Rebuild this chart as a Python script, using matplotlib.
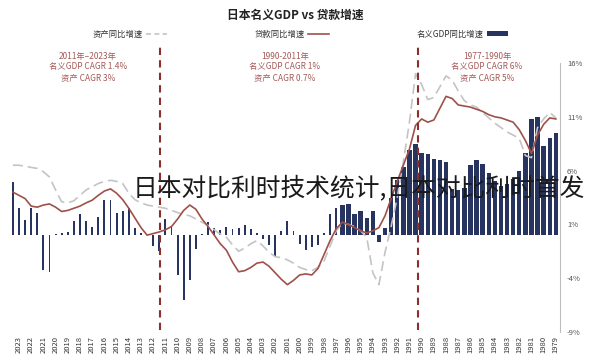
import numpy as np
import matplotlib
matplotlib.use('Agg')
import matplotlib.pyplot as plt
from matplotlib.patches import Patch
from matplotlib.lines import Line2D

plt.rcParams['font.family'] = ['Noto Sans CJK SC', 'DejaVu Sans']

# half-year periods, newest (left) to oldest (right)
periods = np.arange(2023.5, 1978.9, -0.5)

gdp_yoy = [4.9, 2.5, 1.4, 2.5, 2.1, -3.2, -3.4, 0.1, 0.2, 0.3,
           1.3, 2.0, 1.3, 0.8, 1.7, 3.3, 3.3, 2.1, 2.2, 2.5,
           0.7, 0.2, 0.05, -1.0, -1.5, 1.5, 0.8, -3.7, -6.0, -4.2,
           -1.3, 0.1, 1.2, 0.7, 0.5, 0.8, 0.6, 0.7, 0.9, 0.6,
           0.2, -0.4, -0.9, -2.0, 0.4, 1.3, 0.4, -0.8, -1.4, -1.1,
           -0.9, 0.2, 2.0, 2.5, 2.8, 2.9, 2.0, 2.2, 1.6, 2.2,
           -0.6, 0.7, 3.5, 5.1, 6.3, 7.9, 8.5, 7.6, 7.5, 7.1,
           7.0, 6.8, 4.3, 4.2, 4.4, 6.5, 7.0, 6.6, 5.8, 5.0,
           4.6, 4.8, 5.2, 6.0, 7.6, 10.8, 11.0, 8.3, 9.0, 9.5]

loan_yoy = [4.0, 3.7, 3.4, 2.7, 2.6, 2.8, 2.9, 2.6, 2.2, 2.3,
            2.5, 2.7, 3.0, 3.25, 3.7, 4.1, 4.3, 3.9, 3.3, 2.5,
            1.6, 0.7, 0.0, 0.15, 0.3, 0.5, 0.8, 1.5, 2.3, 2.8,
            2.4, 1.5, 0.8, 0.0, -0.8, -1.4, -2.5, -3.4, -3.3, -3.0,
            -2.6, -2.5, -2.9, -3.5, -4.1, -4.6, -4.2, -3.7, -3.6, -3.7,
            -3.1, -1.8, -0.5, 0.6, 1.2, 1.0, 0.7, 0.4, 0.2, 0.4,
            0.7, 1.8, 3.4, 5.0, 6.5, 8.0, 10.2, 10.8, 10.5, 10.7,
            11.8, 12.9, 12.7, 12.1, 12.0, 11.9, 11.7, 11.5, 11.2, 11.0,
            10.9, 10.7, 10.5, 9.8, 8.8, 7.6, 9.3, 10.3, 10.9, 10.8]

asset_yoy = [6.5, 6.5, 6.4, 6.3, 6.2, 5.9, 5.4, 4.2, 3.1, 3.0,
             3.2, 3.7, 4.2, 4.5, 4.8, 5.0, 5.1, 5.0, 4.8, 3.9,
             3.3, 3.0, 2.8, 2.7, 2.6, 2.5, 2.3, 2.1, 1.9, 1.8,
             1.5, 1.2, 0.9, 0.5, 0.1, -0.2, -0.9, -1.5, -1.2, -0.8,
             -0.5, -1.0, -1.6, -2.0, -2.1, -2.3, -2.6, -3.0, -3.2, -3.3,
             -3.0, -2.4, -1.0, 0.4, 1.1, 1.0, 0.8, 0.4, -0.2, -3.5,
             -4.6, -1.6, 0.8, 3.5, 6.8, 10.5, 15.0, 14.0, 12.6, 12.8,
             13.8, 14.8, 14.4, 13.4, 12.5, 12.1, 11.9, 11.4, 10.9, 10.4,
             10.0, 9.6, 9.3, 9.0, 7.4, 7.2, 10.0, 10.8, 11.4, 10.9]

years = np.arange(1979, 2024)
yticks = [-9, -4, 1, 6, 11, 16]
split_years = [2011.45, 1990.3]

notes = [
    (88, ['2011年–2023年', '名义GDP CAGR 1.4%', '资产 CAGR 3%']),
    (285, ['1990-2011年', '名义GDP CAGR 1%', '资产 CAGR 0.7%']),
    (487, ['1977-1990年', '名义GDP CAGR 6%', '资产 CAGR 5%']),
]

navy = '#27345f'
loan_c = '#a0504a'
asset_c = '#c4c4c4'
split_c = '#8c2f2c'
note_c = '#a45a58'

W, H = 600, 364
fig = plt.figure(figsize=(6, 3.64), dpi=100)
ax = fig.add_axes([8 / W, 1 - 332 / H, 552 / W, 269 / H])

widths = np.where(periods < 1996.8, 0.36, 0.16)
ax.bar(periods, gdp_yoy, width=widths, color=navy, linewidth=0, zorder=2)
ax.plot(periods, asset_yoy, color=asset_c, lw=1.2, ls=(0, (6, 3)), zorder=3)
ax.plot(periods, loan_yoy, color=loan_c, lw=1.2, zorder=4)

for xv in split_years:
    ax.axvline(xv, ymin=0.007, ymax=1.067, color=split_c, lw=1.5,
               ls=(0, (3.5, 2.5)), clip_on=False, zorder=5)

ax.set_xlim(2023.9, 1978.66)
ax.set_ylim(-9, 16)
ax.set_xticks(years)
ax.set_xticklabels([str(y) for y in years], rotation=90, fontsize=5.5,
                   color='#333333')
ax.tick_params(axis='x', length=0, pad=3)
ax.yaxis.tick_right()
ax.set_yticks(yticks)
ax.set_yticklabels([f'{v}%' for v in yticks], fontsize=5.5, color='#555555')
ax.tick_params(axis='y', length=0, pad=5)
for s in ['left', 'top', 'bottom']:
    ax.spines[s].set_visible(False)
ax.spines['right'].set_color('#bdbdbd')
ax.spines['right'].set_linewidth(0.8)

fig.text(295 / W, 1 - 15 / H, '日本名义GDP vs 贷款增速', fontsize=8.5,
         fontweight='bold', ha='center', va='center', color='#222222')

handles = [
    Line2D([], [], color=asset_c, lw=1.2, ls=(0, (3, 2))),
    Line2D([], [], color=loan_c, lw=1.2),
    Patch(facecolor=navy, edgecolor='none'),
]
labels = ['资产同比增速', '贷款同比增速', '名义GDP同比增速']
fig.legend(handles, labels, ncol=3, loc='center',
           bbox_to_anchor=(300 / W, 1 - 34 / H), markerfirst=False,
           frameon=False, fontsize=6, handlelength=2.5, handleheight=0.5,
           handletextpad=0.4, columnspacing=10.5, labelcolor='#333333')

for xc, lines in notes:
    for k, line in enumerate(lines):
        fig.text(xc / W, 1 - (56 + 11 * k) / H, line, fontsize=6,
                 ha='center', va='center', color=note_c)

# overlay caption across the plot
fig.text(133 / W, 1 - 188 / H, '日本对比利时技术统计,日本对比利时首发',
         fontsize=17.8, ha='left', va='center', color='#1a1a1a',
         fontweight='light', zorder=10)

fig.savefig('out.png', dpi=100)
